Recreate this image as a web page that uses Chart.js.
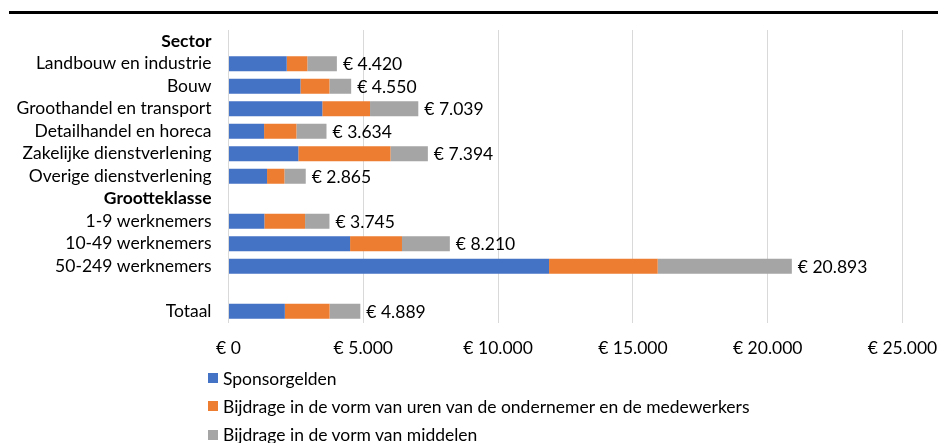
<!DOCTYPE html>
<html>
<head>
<meta charset="utf-8">
<script src="https://cdn.jsdelivr.net/npm/chart.js@4.4.1/dist/chart.umd.min.js"></script>
<style>
    html, body { margin: 0; padding: 0; background: #fff; }
    #wrap { position: relative; width: 938px; height: 443px; overflow: hidden; }
    #rule { position: absolute; left: 9px; right: 0; top: 11px; height: 2.5px; background: #000; }
    #chart { position: absolute; left: 0; top: 0; }
    #legend { position: absolute; left: 208px; top: 364px; font-family: Lato, sans-serif; font-size: 17.5px; color: #000; }
    #legend div { height: 28.3px; display: flex; align-items: center; }
    #legend span.box { display: inline-block; width: 10px; height: 10px; margin-right: 5px; }
</style>
</head>
<body>
<div id="wrap">
    <div id="rule"></div>
    <canvas id="chart" width="938" height="443"></canvas>
    <div id="legend"></div>
</div>
<script>
// Categories (empty rows act as group headers / spacer)
const categories = [
    'Sector',
    'Landbouw en industrie',
    'Bouw',
    'Groothandel en transport',
    'Detailhandel en horeca',
    'Zakelijke dienstverlening',
    'Overige dienstverlening',
    'Grootteklasse',
    '1-9 werknemers',
    '10-49 werknemers',
    '50-249 werknemers',
    '',
    'Totaal'
];
const headerRows = ['Sector', 'Grootteklasse'];

// Series values (euro)
const sponsorgelden = [null, 2160, 2670, 3480, 1320, 2590, 1430, null, 1330, 4510, 11890, null, 2090];
const urenBijdrage  = [null,  765, 1075, 1770, 1200, 3420,  645, null, 1510, 1925,  4030, null, 1660];
const middelen      = [null, 1095,  805, 1790, 1115, 1385,  790, null,  905, 1775,  4975, null, 1140];

// Total labels shown at the end of each bar
const totalLabels = ['', '€ 4.420', '€ 4.550', '€ 7.039', '€ 3.634', '€ 7.394', '€ 2.865',
    '', '€ 3.745', '€ 8.210', '€ 20.893', '', '€ 4.889'];

const seriesNames = [
    'Sponsorgelden',
    'Bijdrage in de vorm van uren van de ondernemer en de medewerkers',
    'Bijdrage in de vorm van middelen'
];
const colors = ['#4472C4', '#ED7D31', '#A5A5A5'];

const FONT = 'Lato, sans-serif';
const FONT_SIZE = 17.5;

function euro(v) {
    return '€ ' + v.toLocaleString('nl-NL');
}

// Draw the total label right of each stacked bar
const totalsPlugin = {
    id: 'totals',
    afterDatasetsDraw(chart) {
        const c = chart.ctx;
        const meta = chart.getDatasetMeta(chart.data.datasets.length - 1);
        c.save();
        c.font = FONT_SIZE + 'px ' + FONT;
        c.fillStyle = '#000';
        c.textAlign = 'left';
        c.textBaseline = 'middle';
        meta.data.forEach(function(bar, i) {
            if (!totalLabels[i]) return;
            c.fillText(totalLabels[i], bar.x + 6, bar.y + 1);
        });
        c.restore();
    }
};

const chart = new Chart(document.getElementById('chart'), {
    type: 'bar',
    data: {
        labels: categories,
        datasets: [
            { label: seriesNames[0], data: sponsorgelden, backgroundColor: colors[0] },
            { label: seriesNames[1], data: urenBijdrage, backgroundColor: colors[1] },
            { label: seriesNames[2], data: middelen, backgroundColor: colors[2] }
        ]
    },
    options: {
        indexAxis: 'y',
        responsive: false,
        animation: false,
        layout: { padding: { top: 30, right: 35.5, bottom: 69.5, left: 0 } },
        datasets: {
            bar: { barPercentage: 0.67, categoryPercentage: 1, borderWidth: 0 }
        },
        plugins: {
            legend: { display: false },
            tooltip: { enabled: false }
        },
        scales: {
            x: {
                stacked: true,
                min: 0,
                max: 25000,
                afterFit: function(scale) { scale.paddingRight = 0; scale.paddingLeft = 0; },
                ticks: {
                    stepSize: 5000,
                    padding: 15,
                    color: '#000',
                    font: { family: FONT, size: FONT_SIZE },
                    callback: function(v) { return euro(v); }
                },
                grid: { color: '#d9d9d9', lineWidth: 1, drawTicks: false },
                border: { display: false }
            },
            y: {
                stacked: true,
                afterFit: function(scale) { scale.width = 228.5; },
                ticks: {
                    padding: 17,
                    color: '#000',
                    autoSkip: false,
                    font: function(ctx) {
                        const lab = ctx.tick ? ctx.tick.label : '';
                        return { family: FONT, size: FONT_SIZE, weight: headerRows.includes(lab) ? 'bold' : 'normal' };
                    }
                },
                grid: { display: false, drawTicks: false },
                border: { display: true, color: '#d9d9d9' }
            }
        }
    },
    plugins: [totalsPlugin]
});

// HTML legend, one item per row
const legendEl = document.getElementById('legend');
chart.data.datasets.forEach(function(ds) {
    const row = document.createElement('div');
    const box = document.createElement('span');
    box.className = 'box';
    box.style.background = ds.backgroundColor;
    row.appendChild(box);
    row.appendChild(document.createTextNode(ds.label));
    legendEl.appendChild(row);
});
</script>
</body>
</html>
